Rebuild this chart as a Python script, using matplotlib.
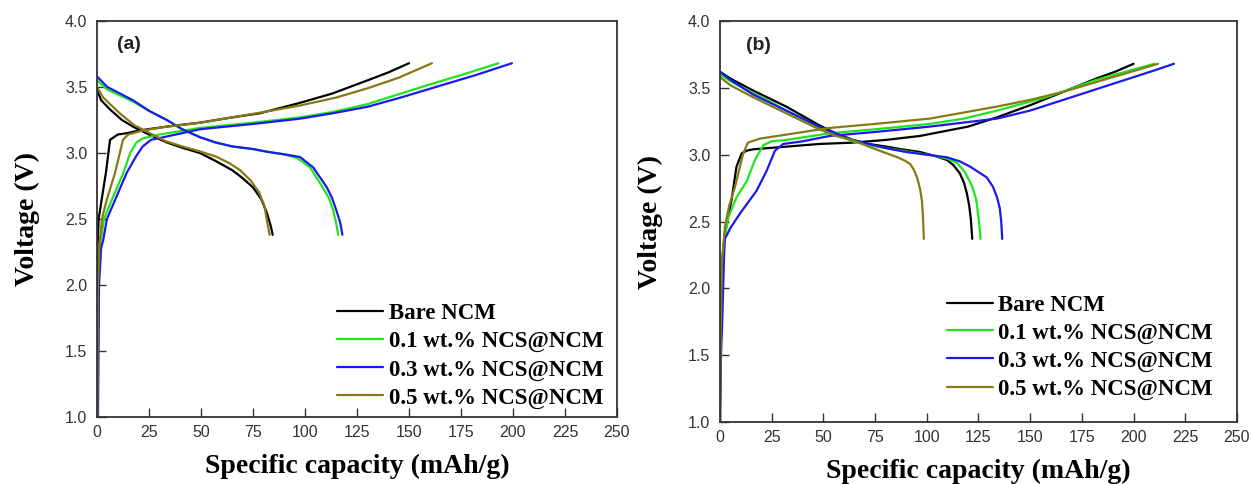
import matplotlib
matplotlib.use("Agg")
import matplotlib.pyplot as plt

# ---------------- data ----------------
labels = ["Bare NCM", "0.1 wt.% NCS@NCM", "0.3 wt.% NCS@NCM", "0.5 wt.% NCS@NCM"]
colors = ["#000000", "#1ee61e", "#1a1aee", "#857a14"]

# panel (a): charge curves
a_chg_bare_x = [0, 0, 0.3, 0.8, 2.2, 4.3, 6.3, 10, 14.4, 20, 33.6, 49.5, 65, 78, 97.6, 113, 130, 140, 150]
a_chg_bare_y = [1.0, 2.0, 2.3, 2.5, 2.64, 2.85, 3.10, 3.14, 3.15, 3.17, 3.20, 3.23, 3.27, 3.30, 3.38, 3.45, 3.55, 3.61, 3.68]
a_chg_01_x = [0.3, 0.8, 1.5, 3.4, 7, 12.7, 16, 19, 22, 30, 49.5, 75, 97.6, 113, 130, 146, 160, 175, 193]
a_chg_01_y = [1.0, 2.0, 2.3, 2.5, 2.64, 2.85, 3.0, 3.08, 3.11, 3.14, 3.19, 3.23, 3.27, 3.31, 3.37, 3.45, 3.52, 3.59, 3.68]
a_chg_03_x = [0.5, 1.0, 2.0, 3.0, 4.8, 8.6, 14.3, 19, 22, 26, 35, 49.5, 75, 97.6, 113, 130, 146, 165, 182, 199.5]
a_chg_03_y = [1.0, 2.0, 2.28, 2.34, 2.5, 2.64, 2.85, 2.98, 3.05, 3.10, 3.13, 3.18, 3.22, 3.26, 3.30, 3.35, 3.42, 3.51, 3.59, 3.68]
a_chg_05_x = [0.2, 0.5, 1.2, 2.4, 4.6, 8.7, 11, 12.5, 15, 22, 33.6, 50, 65, 80, 97.6, 115, 130, 145, 161]
a_chg_05_y = [1.0, 2.0, 2.3, 2.5, 2.64, 2.85, 3.0, 3.10, 3.14, 3.17, 3.20, 3.23, 3.27, 3.31, 3.36, 3.42, 3.49, 3.57, 3.68]

# panel (a): discharge curves
a_dis_bare_x = [0, 2, 6.3, 12, 17.3, 25, 33.6, 41, 49.5, 57, 65, 70, 75, 79, 81.6, 83.5, 84.5]
a_dis_bare_y = [3.48, 3.40, 3.33, 3.25, 3.20, 3.14, 3.08, 3.04, 3.00, 2.94, 2.87, 2.81, 2.74, 2.65, 2.55, 2.45, 2.38]
a_dis_01_x = [0, 5, 17.3, 25, 33.6, 41, 49.5, 57, 65, 75, 81.7, 90, 96.5, 102.5, 108.5, 111.5, 113.5, 115, 116]
a_dis_01_y = [3.55, 3.48, 3.39, 3.32, 3.25, 3.18, 3.12, 3.08, 3.05, 3.03, 3.01, 2.99, 2.96, 2.89, 2.74, 2.66, 2.57, 2.47, 2.38]
a_dis_03_x = [0, 5, 17.3, 25, 33.6, 41, 49.5, 57, 65, 75, 81.7, 90, 97.6, 104, 110.5, 113, 115, 117, 118]
a_dis_03_y = [3.58, 3.50, 3.40, 3.32, 3.25, 3.18, 3.12, 3.08, 3.05, 3.03, 3.01, 2.99, 2.97, 2.89, 2.74, 2.66, 2.57, 2.47, 2.38]
a_dis_05_x = [0, 3, 11, 18, 25.5, 33, 41, 50, 57.7, 64, 68.8, 74, 78, 80.5, 81.7, 83]
a_dis_05_y = [3.50, 3.42, 3.30, 3.21, 3.15, 3.09, 3.05, 3.01, 2.97, 2.92, 2.87, 2.79, 2.70, 2.60, 2.49, 2.38]

# panel (b): charge curves
b_chg_bare_x = [0, 0.3, 1.0, 2.4, 5.6, 8.0, 10.5, 13, 16, 32, 48, 64, 80, 96.7, 110, 120, 134, 150, 166, 182, 191, 200]
b_chg_bare_y = [1.0, 1.7, 2.2, 2.41, 2.66, 2.91, 3.01, 3.03, 3.04, 3.06, 3.08, 3.09, 3.11, 3.14, 3.18, 3.21, 3.28, 3.37, 3.47, 3.57, 3.62, 3.68]
b_chg_01_x = [0, 0.4, 1.2, 2.0, 4.0, 8, 12.9, 16.9, 20.9, 25, 32, 53, 75, 101.5, 118, 134, 158, 182, 196, 210]
b_chg_01_y = [1.0, 1.7, 2.2, 2.35, 2.53, 2.68, 2.80, 2.96, 3.07, 3.10, 3.11, 3.16, 3.19, 3.23, 3.27, 3.33, 3.43, 3.56, 3.62, 3.68]
b_chg_03_x = [0, 0.5, 1.0, 2.0, 2.4, 5, 9.7, 17.7, 22.6, 26.6, 30.6, 40, 53, 75, 101.5, 134, 150, 166, 182, 198, 210, 219.5]
b_chg_03_y = [1.0, 1.5, 1.7, 2.25, 2.37, 2.45, 2.56, 2.73, 2.88, 3.03, 3.08, 3.10, 3.14, 3.17, 3.21, 3.27, 3.33, 3.41, 3.49, 3.57, 3.63, 3.68]
b_chg_05_x = [0, 0.4, 1.0, 2.4, 4.5, 7.3, 9.5, 11.3, 13.5, 19.3, 32, 53, 75, 101.5, 134, 150, 166, 190, 201, 211.8]
b_chg_05_y = [1.0, 1.7, 2.2, 2.46, 2.62, 2.76, 2.90, 3.01, 3.09, 3.12, 3.15, 3.20, 3.23, 3.27, 3.36, 3.41, 3.47, 3.58, 3.63, 3.68]

# panel (b): discharge curves
b_dis_bare_x = [0, 5, 16, 24, 32, 40, 48, 56, 64.3, 72, 80.6, 88, 96.7, 104, 109.8, 113, 116, 118, 119.4, 120.5, 121.3, 122]
b_dis_bare_y = [3.62, 3.57, 3.48, 3.42, 3.36, 3.29, 3.22, 3.16, 3.11, 3.08, 3.06, 3.04, 3.02, 2.99, 2.96, 2.92, 2.86, 2.79, 2.71, 2.62, 2.52, 2.37]
b_dis_01_x = [0, 5, 16, 24, 32, 40, 48, 56, 64, 72, 80, 88, 96, 104, 110, 114.5, 118.5, 122, 123.8, 124.8, 125.5, 126]
b_dis_01_y = [3.60, 3.55, 3.46, 3.40, 3.33, 3.27, 3.20, 3.15, 3.10, 3.07, 3.05, 3.03, 3.01, 2.99, 2.97, 2.94, 2.87, 2.76, 2.67, 2.56, 2.46, 2.37]
b_dis_03_x = [0, 5, 16, 24, 32, 40, 48, 56, 64, 72, 80, 90, 100, 109.8, 116, 121, 126, 129, 132, 134, 135.3, 136, 136.5]
b_dis_03_y = [3.62, 3.56, 3.45, 3.39, 3.33, 3.27, 3.21, 3.16, 3.11, 3.08, 3.05, 3.02, 3.00, 2.98, 2.95, 2.91, 2.86, 2.83, 2.76, 2.68, 2.60, 2.50, 2.37]
b_dis_05_x = [0, 5, 16, 24, 32, 40, 48, 56, 64, 72, 80.6, 86, 90, 92, 94, 95.5, 96.8, 97.7, 98.2, 98.6]
b_dis_05_y = [3.58, 3.52, 3.43, 3.37, 3.31, 3.25, 3.19, 3.14, 3.11, 3.06, 3.01, 2.98, 2.95, 2.93, 2.88, 2.82, 2.74, 2.65, 2.52, 2.37]

x_ticks = [0, 25, 50, 75, 100, 125, 150, 175, 200, 225, 250]
y_ticks = [1.0, 1.5, 2.0, 2.5, 3.0, 3.5, 4.0]

panels = {
    "(a)": {
        "charge": [(a_chg_bare_x, a_chg_bare_y), (a_chg_01_x, a_chg_01_y),
                   (a_chg_03_x, a_chg_03_y), (a_chg_05_x, a_chg_05_y)],
        "discharge": [(a_dis_bare_x, a_dis_bare_y), (a_dis_01_x, a_dis_01_y),
                      (a_dis_03_x, a_dis_03_y), (a_dis_05_x, a_dis_05_y)],
    },
    "(b)": {
        "charge": [(b_chg_bare_x, b_chg_bare_y), (b_chg_01_x, b_chg_01_y),
                   (b_chg_03_x, b_chg_03_y), (b_chg_05_x, b_chg_05_y)],
        "discharge": [(b_dis_bare_x, b_dis_bare_y), (b_dis_01_x, b_dis_01_y),
                      (b_dis_03_x, b_dis_03_y), (b_dis_05_x, b_dis_05_y)],
    },
}

# ---------------- figure ----------------
SERIF = ["Liberation Serif", "DejaVu Serif"]
SANS = ["Liberation Sans", "DejaVu Sans"]
plt.rcParams["font.family"] = SANS

fig = plt.figure(figsize=(12.51, 4.84), dpi=100)
ax_rects = {
    "(a)": [0.0775, 0.1384, 0.4157, 0.8182],
    "(b)": [0.5755, 0.1281, 0.4133, 0.8285],
}
legend_anchor = {"(a)": (0.462, 0.287), "(b)": (0.439, 0.318)}
tag_pos = {"(a)": (9.6, 3.82), "(b)": (12.6, 3.82)}

spine_col = "#333333"
for name, rect in ax_rects.items():
    ax = fig.add_axes(rect)
    data = panels[name]
    for i in range(4):
        cx, cy = data["charge"][i]
        dx, dy = data["discharge"][i]
        ax.plot(cx, cy, color=colors[i], lw=1.6, label=labels[i],
                solid_joinstyle="round", solid_capstyle="round")
        ax.plot(dx, dy, color=colors[i], lw=1.6,
                solid_joinstyle="round", solid_capstyle="round")

    ax.set_xlim(0, 250)
    ax.set_ylim(1.0, 4.0)
    ax.set_xticks(x_ticks)
    ax.set_yticks(y_ticks)
    ax.set_yticklabels([f"{v:.1f}" for v in y_ticks])
    ax.tick_params(direction="in", length=6.5, width=1.0, color=spine_col,
                   labelsize=11.5, labelcolor="#333333", pad=6)
    ax.tick_params(axis="y", pad=7)
    for s in ax.spines.values():
        s.set_linewidth(1.3)
        s.set_color(spine_col)

    ax.set_xlabel("Specific capacity (mAh/g)", fontfamily=SERIF,
                  fontweight="bold", fontsize=20, labelpad=10)
    ax.set_ylabel("Voltage (V)", fontfamily=SERIF, fontweight="bold",
                  fontsize=20)
    ax.yaxis.set_label_coords(-0.11, 0.5)

    tx, ty = tag_pos[name]
    ax.text(tx, ty, name, fontweight="bold", fontsize=14, ha="left",
            va="center", color="#222222")

    ax.legend(loc="upper left", bbox_to_anchor=legend_anchor[name],
              frameon=False, borderpad=0, borderaxespad=0,
              handlelength=2.0, handletextpad=0.25, labelspacing=0.30,
              prop={"family": SERIF, "weight": "bold", "size": 16.5})

fig.savefig("out.png", dpi=100, facecolor="white")
